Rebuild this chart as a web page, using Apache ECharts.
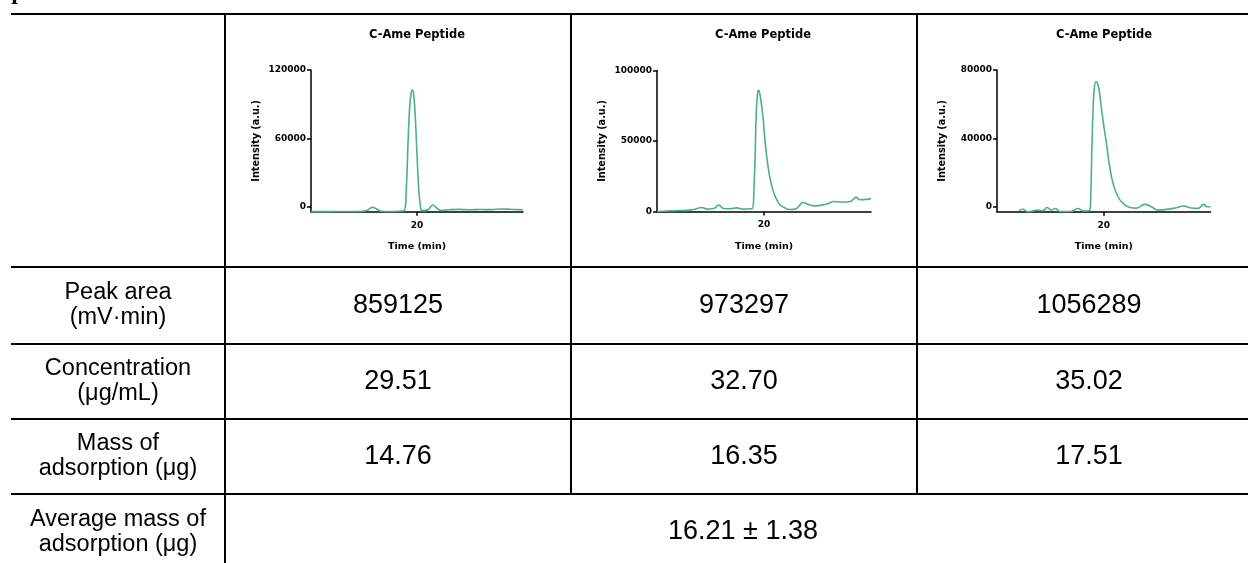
<!DOCTYPE html>
<html>
<head>
<meta charset="utf-8">
<title>C-Ame Peptide adsorption</title>
<script src="https://cdn.jsdelivr.net/npm/echarts@6/dist/echarts.min.js"></script>
<style>
  html, body { margin: 0; padding: 0; background: #fff; }
  #chart { width: 1248px; height: 563px; }
</style>
</head>
<body>
<div id="chart"></div>
<script>
// ---- data ----
const panelLetter = 'p';
const chartTitle = 'C-Ame Peptide';
const xName = 'Time (min)';
const yName = 'Intensity (a.u.)';
const xTicks = [20];
const yTicks1 = [0, 60000, 120000];
const yTicks2 = [0, 50000, 100000];
const yTicks3 = [0, 40000, 80000];

// chromatograms: [time (min), intensity]
const trace1 = [
  [10.0, -4300], [11.0, -4300], [12.0, -4300], [13.0, -4250], [14.0, -4200], [14.8, -4100],
  [15.3, -3200], [15.8, -600], [16.2, -2000], [16.6, -4000], [17.5, -4200], [18.3, -4000],
  [18.8, -3500], [19.0, 18000], [19.15, 55000], [19.3, 86000], [19.45, 100000], [19.56, 102500],
  [19.68, 99000], [19.82, 82000], [19.97, 52000], [20.12, 23000], [20.3, 2000], [20.5, -3500],
  [21.0, -2800], [21.5, 1500], [21.9, -1500], [22.3, -3300], [23.0, -2700], [24.0, -2400],
  [25.0, -2700], [26.0, -2500], [27.0, -2600], [28.0, -2000], [28.8, -2300], [29.5, -2600], [30.0, -2700]
];
const trace2 = [
  [10.0, 0], [11.0, 400], [12.0, 700], [12.7, 800], [13.4, 1400], [14.2, 2850], [14.67, 1700],
  [15.29, 2100], [15.76, 4500], [16.22, 2100], [16.85, 1900], [17.41, 2600], [18.09, 1700],
  [18.72, 1900], [18.88, 1900], [19.09, 22100], [19.28, 69700], [19.4, 84000], [19.5, 85900],
  [19.65, 81600], [19.9, 67300], [20.12, 48300], [20.43, 29300], [20.84, 15000], [21.37, 5900],
  [21.83, 3100], [22.46, 1400], [22.93, 1700], [23.24, 3600], [23.64, 6400], [24.17, 5000],
  [24.79, 4000], [25.41, 4500], [26.04, 5700], [26.5, 7100], [27.28, 6700], [28.06, 7100],
  [28.37, 8800], [28.59, 10000], [29.0, 8300], [29.78, 8800], [30.0, 9200]
];
const trace3 = [
  [12.06, -2300], [12.4, -1500], [12.9, -2900], [13.8, -2000], [14.3, -2300], [14.7, -400],
  [15.1, -1900], [15.5, -1000], [15.9, -2800], [16.9, -2800], [17.6, -1000], [18.1, -2500],
  [18.69, -1950], [18.78, 5850], [18.88, 31200], [19.0, 56600], [19.13, 70200], [19.28, 73100],
  [19.47, 71200], [19.69, 62400], [19.93, 50700], [20.25, 37100], [20.56, 23400], [20.87, 13700],
  [21.34, 5850], [21.81, 2000], [22.44, -400], [23.06, -800], [23.84, 1400], [24.46, 0],
  [25.09, -1950], [25.87, -1560], [26.81, -580], [27.5, 400], [28.06, -580], [28.84, -975],
  [29.37, 1400], [29.68, 0], [30.0, 0]
];

const rowLabels = [
  'Peak area\n(mV·min)',
  'Concentration\n(μg/mL)',
  'Mass of\nadsorption (μg)',
  'Average mass of\nadsorption (μg)'
];
const peakArea = ['859125', '973297', '1056289'];
const concentration = ['29.51', '32.70', '35.02'];
const massAdsorption = ['14.76', '16.35', '17.51'];
const averageMass = '16.21 ± 1.38';

// ---- layout ----
const lineColor = '#4dae8e';
const chartFont = 'DejaVu Sans';
const tableFont = 'Liberation Sans, Arial, sans-serif';
const rowLines = [14, 267, 344, 419, 494];
const colLines = [225, 571, 917, 1263];   // last border sits past the right edge
const tableLeft = 11;
const lastRowMid = 532;

const plots = [
  { data: trace1, ticks: yTicks1, left: 311, top: 70, width: 212, height: 141.7, min: -4400, max: 120000, titleX: 417 },
  { data: trace2, ticks: yTicks2, left: 657, top: 70.5, width: 214, height: 141, min: 0, max: 100000, titleX: 763 },
  { data: trace3, ticks: yTicks3, left: 997, top: 70, width: 213.5, height: 141.7, min: -2900, max: 80000, titleX: 1104 }
];

const axisLine = { show: true, onZero: false, lineStyle: { color: '#000', width: 1.5 } };
const axisTick = (vals) => ({ show: true, inside: false, length: 4, lineStyle: { color: '#000', width: 1.5 }, customValues: vals });
const labelStyle = { color: '#000', fontFamily: chartFont, fontWeight: 'bold', fontSize: 9, formatter: (v) => String(v) };

const grids = [], xAxes = [], yAxes = [], series = [], titles = [];
plots.forEach((p, i) => {
  grids.push({ left: p.left, top: p.top, width: p.width, height: p.height, containLabel: false });
  titles.push({
    text: chartTitle, left: p.titleX, top: 29, textAlign: 'center', padding: 0,
    textStyle: { fontFamily: chartFont, fontWeight: 'bold', fontSize: 11.5, color: '#000' }
  });
  xAxes.push({
    gridIndex: i, type: 'value', min: 10, max: 30,
    name: xName, nameLocation: 'middle', nameGap: 30,
    nameTextStyle: { fontFamily: chartFont, fontWeight: 'bold', fontSize: 9.5, color: '#000' },
    axisLine, axisTick: axisTick(xTicks), splitLine: { show: false },
    axisLabel: Object.assign({ margin: 9, customValues: xTicks }, labelStyle)
  });
  yAxes.push({
    gridIndex: i, type: 'value', min: p.min, max: p.max,
    name: yName, nameLocation: 'middle', nameGap: 50,
    nameTextStyle: { fontFamily: chartFont, fontWeight: 'bold', fontSize: 9.7, color: '#000' },
    axisLine, axisTick: axisTick(p.ticks), splitLine: { show: false },
    axisLabel: Object.assign({ margin: 5, customValues: p.ticks }, labelStyle)
  });
  series.push({
    type: 'line', xAxisIndex: i, yAxisIndex: i, data: p.data,
    showSymbol: false, smooth: 0.5,
    lineStyle: { color: lineColor, width: 1.6 }, clip: false, silent: true
  });
});

// table grid lines and cell text
const graphic = [];
const hLine = (y) => ({ type: 'line', shape: { x1: tableLeft, y1: y, x2: 1248, y2: y }, style: { stroke: '#000', lineWidth: 2 } });
const vLine = (x, y2) => ({ type: 'line', shape: { x1: x, y1: rowLines[0], x2: x, y2: y2 }, style: { stroke: '#000', lineWidth: 2 } });
rowLines.forEach(y => graphic.push(hLine(y)));
graphic.push(vLine(colLines[0], 563));
graphic.push(vLine(colLines[1], rowLines[4]));
graphic.push(vLine(colLines[2], rowLines[4]));

const cellText = (txt, x, y, size) => ({
  type: 'text', x: x, y: y,
  style: { text: txt, fill: '#000', align: 'center', verticalAlign: 'middle', fontFamily: tableFont, fontSize: size, lineHeight: 25 }
});
const rowMids = [1, 2, 3].map(r => (rowLines[r] + rowLines[r + 1]) / 2).concat([lastRowMid]);
const labelX = (tableLeft + colLines[0]) / 2;
const colMids = [0, 1, 2].map(c => (colLines[c] + colLines[c + 1]) / 2);
rowLabels.forEach((t, r) => graphic.push(cellText(t, labelX, rowMids[r], 23.5)));
[peakArea, concentration, massAdsorption].forEach((row, r) => {
  row.forEach((v, c) => graphic.push(cellText(v, colMids[c] - (c === 2 ? 1 : 0), rowMids[r], 27)));
});
graphic.push(cellText(averageMass, (colLines[0] + colLines[3]) / 2 - 1, rowMids[3], 27));
graphic.push({
  type: 'text', x: 18, y: 5,
  style: { text: panelLetter, fill: '#000', align: 'center', verticalAlign: 'bottom', fontFamily: 'Liberation Serif', fontWeight: 'bold', fontSize: 24 }
});

const chart = echarts.init(document.getElementById('chart'), null, { renderer: 'canvas' });
chart.setOption({
  animation: false,
  backgroundColor: '#fff',
  title: titles,
  grid: grids,
  xAxis: xAxes,
  yAxis: yAxes,
  series: series,
  graphic: graphic
});
</script>
</body>
</html>
